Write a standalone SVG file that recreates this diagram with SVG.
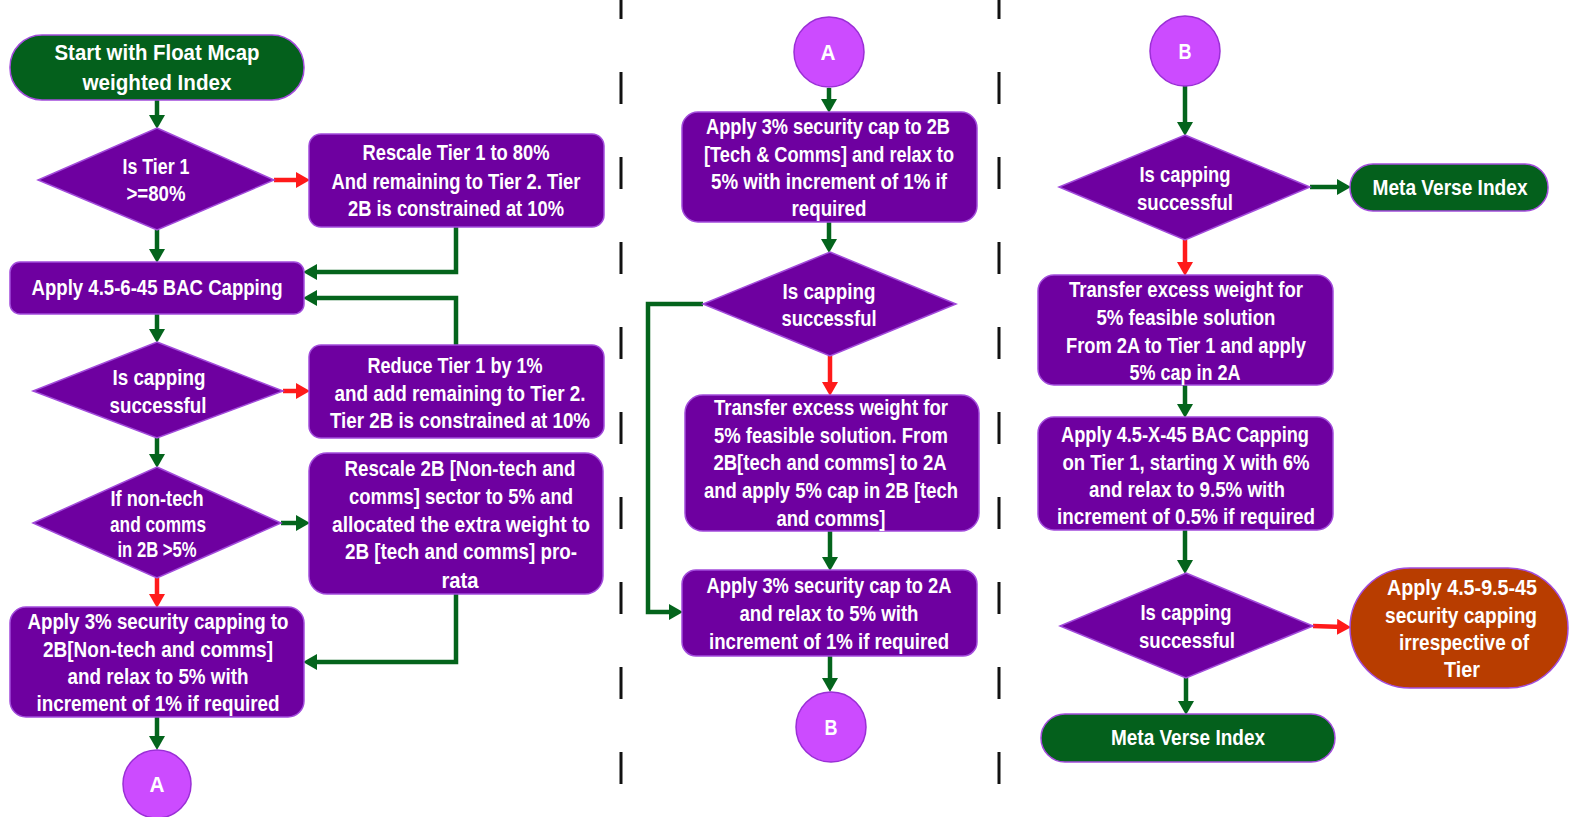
<svg xmlns="http://www.w3.org/2000/svg" width="1570" height="817" viewBox="0 0 1570 817">
<style>
.p{fill:#6E00A0;stroke:#A24CDB;stroke-width:1.5}
.g{fill:#04601C;stroke:#A24CDB;stroke-width:1.5}
.o{fill:#B83D00;stroke:#A24CDB;stroke-width:1.5}
.c{fill:#CC4BFF;stroke:#9A2FD6;stroke-width:1.5}
.t{font-family:"Liberation Sans",Arial,sans-serif;font-weight:bold;font-size:22.5px;fill:#fff;text-anchor:middle}
.cg{fill:none;stroke:#04641C;stroke-width:4.5}
.cr{fill:none;stroke:#FF1A1A;stroke-width:4.5}
.sep{stroke:#111;stroke-width:3;stroke-dasharray:32 53}
</style>
<defs>
<marker id="ag" markerUnits="userSpaceOnUse" markerWidth="16" markerHeight="16" refX="6" refY="8" orient="auto"><path d="M0,0 L14,8 L0,16 z" fill="#04641C"/></marker>
<marker id="ar" markerUnits="userSpaceOnUse" markerWidth="16" markerHeight="16" refX="6" refY="8" orient="auto"><path d="M0,0 L14,8 L0,16 z" fill="#FF1A1A"/></marker>
</defs>
<rect width="1570" height="817" fill="#fff"/>
<g id="separators">
<line class="sep" x1="621" y1="-13" x2="621" y2="790"/>
<line class="sep" x1="999" y1="-13" x2="999" y2="790"/>
</g>
<g id="connectors">
<path class="cg" d="M157,100 V121" marker-end="url(#ag)"/>
<path class="cr" d="M274,180 H302" marker-end="url(#ar)"/>
<path class="cg" d="M157,230 V255" marker-end="url(#ag)"/>
<path class="cg" d="M456,227 V272 H311" marker-end="url(#ag)"/>
<path class="cg" d="M456,345 V298 H311" marker-end="url(#ag)"/>
<path class="cg" d="M157,314 V335" marker-end="url(#ag)"/>
<path class="cr" d="M283,391 H302" marker-end="url(#ar)"/>
<path class="cg" d="M157,438 V460" marker-end="url(#ag)"/>
<path class="cg" d="M281,523 H302" marker-end="url(#ag)"/>
<path class="cr" d="M157,578 V600" marker-end="url(#ar)"/>
<path class="cg" d="M456,594 V662 H311" marker-end="url(#ag)"/>
<path class="cg" d="M157,717 V742" marker-end="url(#ag)"/>
<path class="cg" d="M829,88 V105" marker-end="url(#ag)"/>
<path class="cg" d="M829,222 V245" marker-end="url(#ag)"/>
<path class="cr" d="M830,356 V388" marker-end="url(#ar)"/>
<path class="cg" d="M703,304 H648 V612 H675" marker-end="url(#ag)"/>
<path class="cg" d="M830,531 V563" marker-end="url(#ag)"/>
<path class="cg" d="M830,656 V684" marker-end="url(#ag)"/>
<path class="cg" d="M1185,86 V128" marker-end="url(#ag)"/>
<path class="cg" d="M1310,187 H1343" marker-end="url(#ag)"/>
<path class="cr" d="M1185,240 V268" marker-end="url(#ar)"/>
<path class="cg" d="M1185,385 V410" marker-end="url(#ag)"/>
<path class="cg" d="M1185,530 V566" marker-end="url(#ag)"/>
<path class="cr" d="M1313,626 L1343,627" marker-end="url(#ar)"/>
<path class="cg" d="M1186,678 V707" marker-end="url(#ag)"/>
</g>
<g id="start">
<rect class="g" x="10" y="35" width="294" height="65" rx="32"/>
<text class="t" x="157" y="60" textLength="205" lengthAdjust="spacingAndGlyphs">Start with Float Mcap</text>
<text class="t" x="157" y="90" textLength="149" lengthAdjust="spacingAndGlyphs">weighted Index</text>
</g>
<g id="d1">
<polygon class="p" points="157,128 274,180 157,230 38,180"/>
<text class="t" x="156" y="174" textLength="67" lengthAdjust="spacingAndGlyphs">Is Tier 1</text>
<text class="t" x="156" y="201" textLength="59" lengthAdjust="spacingAndGlyphs">&gt;=80%</text>
</g>
<g id="rescale1">
<rect class="p" x="309" y="134" width="295" height="93" rx="12"/>
<text class="t" x="456" y="160" textLength="187" lengthAdjust="spacingAndGlyphs">Rescale Tier 1 to 80%</text>
<text class="t" x="456" y="189" textLength="249" lengthAdjust="spacingAndGlyphs">And remaining to Tier 2. Tier</text>
<text class="t" x="456" y="216" textLength="216" lengthAdjust="spacingAndGlyphs">2B is constrained at 10%</text>
</g>
<g id="apply456">
<rect class="p" x="10" y="262" width="294" height="52" rx="10"/>
<text class="t" x="157" y="295" textLength="251" lengthAdjust="spacingAndGlyphs">Apply 4.5-6-45 BAC Capping</text>
</g>
<g id="d2">
<polygon class="p" points="157,342 283,391 157,438 33,391"/>
<text class="t" x="159" y="385" textLength="93" lengthAdjust="spacingAndGlyphs">Is capping</text>
<text class="t" x="158" y="413" textLength="97" lengthAdjust="spacingAndGlyphs">successful</text>
</g>
<g id="reduce">
<rect class="p" x="309" y="345" width="295" height="93" rx="12"/>
<text class="t" x="455" y="373" textLength="175" lengthAdjust="spacingAndGlyphs">Reduce Tier 1 by 1%</text>
<text class="t" x="460" y="401" textLength="251" lengthAdjust="spacingAndGlyphs">and add remaining to Tier 2.</text>
<text class="t" x="460" y="428" textLength="260" lengthAdjust="spacingAndGlyphs">Tier 2B is constrained at 10%</text>
</g>
<g id="d3">
<polygon class="p" points="157,467 281,523 157,578 33,523"/>
<text class="t" x="157" y="506" textLength="93" lengthAdjust="spacingAndGlyphs">If non-tech</text>
<text class="t" x="158" y="532" textLength="96" lengthAdjust="spacingAndGlyphs">and comms</text>
<text class="t" x="157" y="557" textLength="79" lengthAdjust="spacingAndGlyphs">in 2B &gt;5%</text>
</g>
<g id="rescale2b">
<rect class="p" x="309" y="453" width="294" height="141" rx="18"/>
<text class="t" x="460" y="476" textLength="231" lengthAdjust="spacingAndGlyphs">Rescale 2B [Non-tech and</text>
<text class="t" x="461" y="504" textLength="224" lengthAdjust="spacingAndGlyphs">comms] sector to 5% and</text>
<text class="t" x="461" y="532" textLength="258" lengthAdjust="spacingAndGlyphs">allocated the extra weight to</text>
<text class="t" x="461" y="559" textLength="232" lengthAdjust="spacingAndGlyphs">2B [tech and comms] pro-</text>
<text class="t" x="460" y="588" textLength="37" lengthAdjust="spacingAndGlyphs">rata</text>
</g>
<g id="apply3a">
<rect class="p" x="10" y="607" width="294" height="110" rx="16"/>
<text class="t" x="158" y="629" textLength="261" lengthAdjust="spacingAndGlyphs">Apply 3% security capping to</text>
<text class="t" x="158" y="657" textLength="230" lengthAdjust="spacingAndGlyphs">2B[Non-tech and comms]</text>
<text class="t" x="158" y="684" textLength="181" lengthAdjust="spacingAndGlyphs">and relax to 5% with</text>
<text class="t" x="158" y="711" textLength="243" lengthAdjust="spacingAndGlyphs">increment of 1% if required</text>
</g>
<g id="circleA1">
<circle class="c" cx="157" cy="784" r="34"/>
<text class="t" x="157" y="792" textLength="15" lengthAdjust="spacingAndGlyphs">A</text>
</g>
<g id="circleA2">
<circle class="c" cx="829" cy="52" r="35"/>
<text class="t" x="828" y="60" textLength="15" lengthAdjust="spacingAndGlyphs">A</text>
</g>
<g id="cap2b">
<rect class="p" x="682" y="112" width="295" height="110" rx="16"/>
<text class="t" x="828" y="134" textLength="244" lengthAdjust="spacingAndGlyphs">Apply 3% security cap to 2B</text>
<text class="t" x="829" y="162" textLength="250" lengthAdjust="spacingAndGlyphs">[Tech &amp; Comms] and relax to</text>
<text class="t" x="829" y="189" textLength="236" lengthAdjust="spacingAndGlyphs">5% with increment of 1% if</text>
<text class="t" x="829" y="216" textLength="75" lengthAdjust="spacingAndGlyphs">required</text>
</g>
<g id="dm">
<polygon class="p" points="830,252 956,304 830,356 703,304"/>
<text class="t" x="829" y="299" textLength="93" lengthAdjust="spacingAndGlyphs">Is capping</text>
<text class="t" x="829" y="326" textLength="95" lengthAdjust="spacingAndGlyphs">successful</text>
</g>
<g id="transfer2b">
<rect class="p" x="685" y="395" width="294" height="136" rx="18"/>
<text class="t" x="831" y="415" textLength="234" lengthAdjust="spacingAndGlyphs">Transfer excess weight for</text>
<text class="t" x="831" y="443" textLength="234" lengthAdjust="spacingAndGlyphs">5% feasible solution. From</text>
<text class="t" x="830" y="470" textLength="233" lengthAdjust="spacingAndGlyphs">2B[tech and comms] to 2A</text>
<text class="t" x="831" y="498" textLength="254" lengthAdjust="spacingAndGlyphs">and apply 5% cap in 2B [tech</text>
<text class="t" x="831" y="526" textLength="109" lengthAdjust="spacingAndGlyphs">and comms]</text>
</g>
<g id="cap2a">
<rect class="p" x="682" y="570" width="295" height="86" rx="14"/>
<text class="t" x="829" y="593" textLength="245" lengthAdjust="spacingAndGlyphs">Apply 3% security cap to 2A</text>
<text class="t" x="829" y="621" textLength="179" lengthAdjust="spacingAndGlyphs">and relax to 5% with</text>
<text class="t" x="829" y="649" textLength="240" lengthAdjust="spacingAndGlyphs">increment of 1% if required</text>
</g>
<g id="circleB1">
<circle class="c" cx="831" cy="727" r="35"/>
<text class="t" x="831" y="735" textLength="13" lengthAdjust="spacingAndGlyphs">B</text>
</g>
<g id="circleB2">
<circle class="c" cx="1185" cy="51" r="35"/>
<text class="t" x="1185" y="59" textLength="13" lengthAdjust="spacingAndGlyphs">B</text>
</g>
<g id="dr1">
<polygon class="p" points="1185,135 1310,187 1185,240 1059,187"/>
<text class="t" x="1185" y="182" textLength="91" lengthAdjust="spacingAndGlyphs">Is capping</text>
<text class="t" x="1185" y="210" textLength="96" lengthAdjust="spacingAndGlyphs">successful</text>
</g>
<g id="meta1">
<rect class="g" x="1350" y="164" width="198" height="47" rx="23"/>
<text class="t" x="1450" y="195" textLength="155" lengthAdjust="spacingAndGlyphs">Meta Verse Index</text>
</g>
<g id="transfer2a">
<rect class="p" x="1038" y="275" width="295" height="110" rx="16"/>
<text class="t" x="1186" y="297" textLength="234" lengthAdjust="spacingAndGlyphs">Transfer excess weight for</text>
<text class="t" x="1186" y="325" textLength="179" lengthAdjust="spacingAndGlyphs">5% feasible solution</text>
<text class="t" x="1186" y="353" textLength="240" lengthAdjust="spacingAndGlyphs">From 2A to Tier 1 and apply</text>
<text class="t" x="1185" y="380" textLength="111" lengthAdjust="spacingAndGlyphs">5% cap in 2A</text>
</g>
<g id="applyX">
<rect class="p" x="1038" y="417" width="295" height="113" rx="16"/>
<text class="t" x="1185" y="442" textLength="248" lengthAdjust="spacingAndGlyphs">Apply 4.5-X-45 BAC Capping</text>
<text class="t" x="1186" y="470" textLength="247" lengthAdjust="spacingAndGlyphs">on Tier 1, starting X with 6%</text>
<text class="t" x="1187" y="497" textLength="196" lengthAdjust="spacingAndGlyphs">and relax to 9.5% with</text>
<text class="t" x="1186" y="524" textLength="258" lengthAdjust="spacingAndGlyphs">increment of 0.5% if required</text>
</g>
<g id="dr2">
<polygon class="p" points="1186,573 1313,626 1186,678 1060,626"/>
<text class="t" x="1186" y="620" textLength="91" lengthAdjust="spacingAndGlyphs">Is capping</text>
<text class="t" x="1187" y="648" textLength="96" lengthAdjust="spacingAndGlyphs">successful</text>
</g>
<g id="fallback">
<rect class="o" x="1350" y="568" width="218" height="120" rx="60"/>
<text class="t" x="1462" y="595" textLength="150" lengthAdjust="spacingAndGlyphs">Apply 4.5-9.5-45</text>
<text class="t" x="1461" y="623" textLength="152" lengthAdjust="spacingAndGlyphs">security capping</text>
<text class="t" x="1464" y="650" textLength="130" lengthAdjust="spacingAndGlyphs">irrespective of</text>
<text class="t" x="1462" y="677" textLength="36" lengthAdjust="spacingAndGlyphs">Tier</text>
</g>
<g id="meta2">
<rect class="g" x="1041" y="714" width="294" height="48" rx="24"/>
<text class="t" x="1188" y="745" textLength="154" lengthAdjust="spacingAndGlyphs">Meta Verse Index</text>
</g>
</svg>
